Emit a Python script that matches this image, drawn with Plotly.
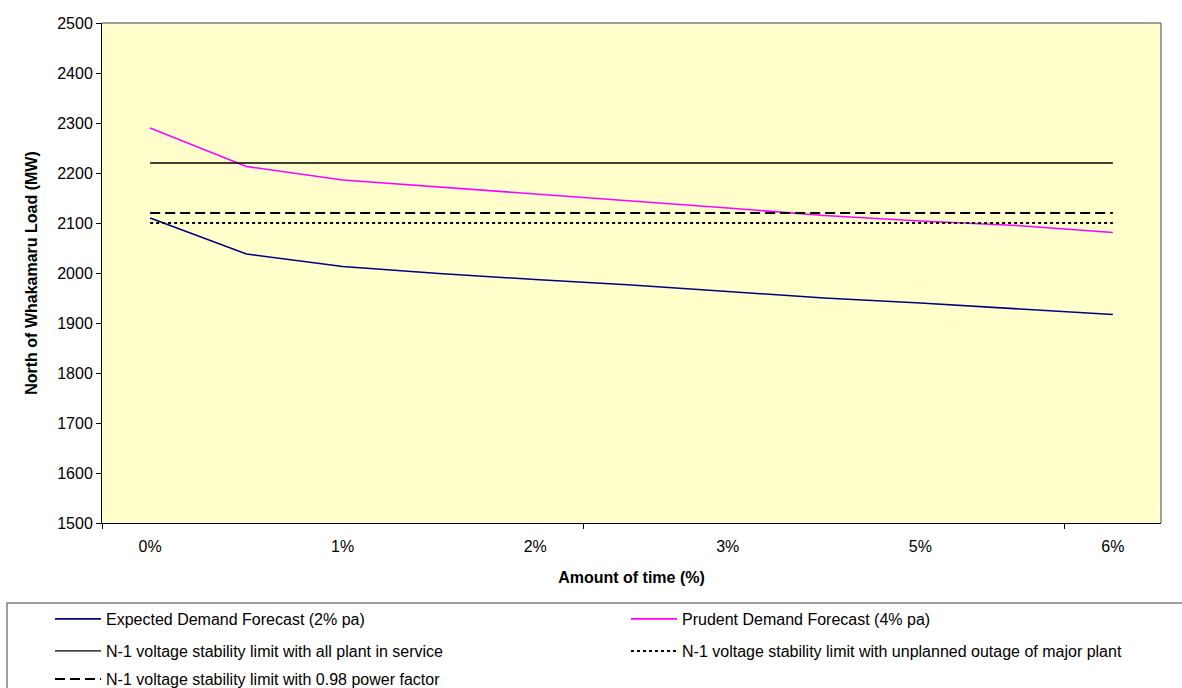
import plotly.graph_objects as go

# ---- data ----
tick_labels = ["0%", "1%", "2%", "3%", "5%", "6%"]
expected_demand = [2110, 2038, 2013, 1999, 1987, 1976, 1963, 1950, 1940, 1929, 1917]
prudent_demand = [2290, 2213, 2186, 2172, 2159, 2145, 2130, 2115, 2104, 2095, 2081]
limit_all_plant = [2220, 2220, 2220, 2220, 2220, 2220, 2220, 2220, 2220, 2220, 2220]
limit_outage = [2100, 2100, 2100, 2100, 2100, 2100, 2100, 2100, 2100, 2100, 2100]
limit_pf = [2120, 2120, 2120, 2120, 2120, 2120, 2120, 2120, 2120, 2120, 2120]

names = [
    "Expected Demand Forecast (2% pa)",
    "Prudent Demand Forecast (4% pa)",
    "N-1 voltage stability limit with all plant in service",
    "N-1 voltage stability limit with unplanned outage of major plant",
    "N-1 voltage stability limit with 0.98 power factor",
]

n = len(expected_demand)
x_idx = list(range(n))
tick_pos = x_idx[::2]

FONT = "Liberation Sans, Arial, sans-serif"

fig = go.Figure()
fig.add_trace(go.Scatter(x=x_idx, y=expected_demand, mode="lines", name=names[0],
                         line=dict(color="#000080", width=1.6), legend="legend"))
fig.add_trace(go.Scatter(x=x_idx, y=prudent_demand, mode="lines", name=names[1],
                         line=dict(color="#FF00FF", width=1.6), legend="legend"))
fig.add_trace(go.Scatter(x=x_idx, y=limit_all_plant, mode="lines", name=names[2],
                         line=dict(color="#000000", width=1.3), legend="legend2"))
fig.add_trace(go.Scatter(x=x_idx, y=limit_outage, mode="lines", name=names[3],
                         line=dict(color="#000000", width=2, dash="3px,3px"), legend="legend2"))
fig.add_trace(go.Scatter(x=x_idx, y=limit_pf, mode="lines", name=names[4],
                         line=dict(color="#000000", width=2, dash="10px,5px"), legend="legend3"))

W, H = 1182, 688
L, R, T, B = 102, 21, 23, 165
pw = W - L - R
ph = H - T - B


def px2x(px):
    return (px - L) / pw


def py2y(py):
    return (H - B - py) / ph


legend_common = dict(
    orientation="h", xanchor="left", yanchor="middle",
    font=dict(family=FONT, size=16, color="black"),
    bgcolor="rgba(0,0,0,0)", borderwidth=0,
    itemwidth=46, entrywidthmode="pixels", entrywidth=515,
    traceorder="normal",
)

fig.update_layout(
    width=W, height=H,
    margin=dict(l=L, r=R, t=T, b=B, autoexpand=False),
    paper_bgcolor="white",
    plot_bgcolor="#FFFFCC",
    font=dict(family=FONT, size=16, color="black"),
    showlegend=True,
    legend=dict(x=px2x(50), y=py2y(619), **legend_common),
    legend2=dict(x=px2x(50), y=py2y(651), **legend_common),
    legend3=dict(x=px2x(50), y=py2y(679), **legend_common),
    xaxis=dict(
        range=[-0.5, n - 0.5],
        tickmode="array", tickvals=tick_pos, ticktext=tick_labels,
        ticks="", showline=True, linecolor="black", linewidth=1,
        showgrid=False, zeroline=False,
        tickfont=dict(family=FONT, size=16, color="black"),
        ticklabelstandoff=9,
        minor=dict(tickmode="array", tickvals=[-0.5, 4.5, 9.5], ticks="outside",
                   ticklen=5, tickcolor="black", tickwidth=1, showgrid=False),
        title=dict(text="Amount of time (%)", standoff=17,
                   font=dict(family=FONT, size=16, color="black", weight="bold")),
    ),
    yaxis=dict(
        range=[1500, 2500], dtick=100, tick0=1500,
        ticks="outside", ticklen=5, tickcolor="black", tickwidth=1,
        showline=True, linecolor="black", linewidth=1,
        showgrid=False, zeroline=False,
        tickfont=dict(family=FONT, size=16, color="black"),
        title=dict(text="North of Whakamaru Load (MW)", standoff=15,
                   font=dict(family=FONT, size=16, color="black", weight="bold")),
    ),
    shapes=[
        # gray top and right plot border
        dict(type="line", xref="paper", yref="paper", x0=0, x1=1, y0=1, y1=1,
             line=dict(color="#808080", width=1.5)),
        dict(type="line", xref="paper", yref="paper", x0=1, x1=1, y0=0, y1=1,
             line=dict(color="#808080", width=1.5)),
        # legend box
        dict(type="rect", xref="paper", yref="paper",
             x0=px2x(7), x1=px2x(1195), y0=py2y(700), y1=py2y(603),
             line=dict(color="#808080", width=1.5), fillcolor="rgba(0,0,0,0)"),
    ],
)

fig.write_html(
    "out.html",
    config={"displayModeBar": False},
    post_script="document.body.style.margin='0';document.body.style.overflow='hidden';",
)
